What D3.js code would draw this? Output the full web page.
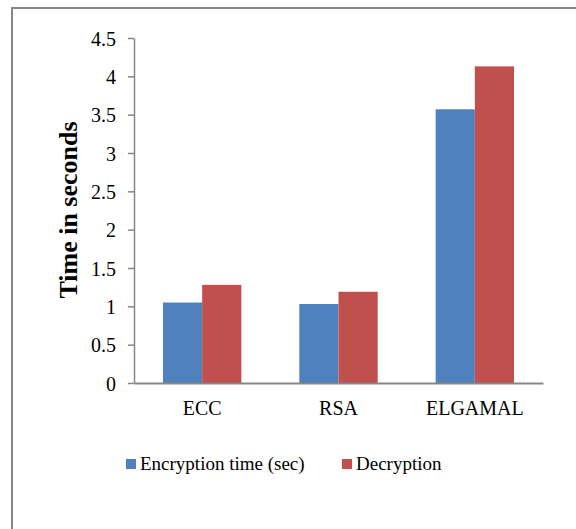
<!DOCTYPE html>
<html>
<head>
<meta charset="utf-8">
<script src="https://cdn.jsdelivr.net/npm/d3@7"></script>
<style>
  html, body { margin: 0; background: #fff; overflow: hidden; }
  svg { display: block; }
  text { font-family: "Liberation Serif", "Times New Roman", serif; fill: #000; }
</style>
</head>
<body>
<div id="chart"></div>
<script>
const categories = ["ECC", "RSA", "ELGAMAL"];
const seriesNames = ["Encryption time (sec)", "Decryption"];
const encryption = [1.05, 1.03, 3.57];
const decryption = [1.28, 1.19, 4.13];
const yTicks = [0, 0.5, 1, 1.5, 2, 2.5, 3, 3.5, 4, 4.5];
const colors = ["#4F81BD", "#C0504D"];

const W = 576, H = 529;
const margin = {top: 38, right: 33, bottom: 146, left: 134};
const width = W - margin.left - margin.right;
const height = H - margin.top - margin.bottom;

const svg = d3.select("#chart").append("svg")
    .attr("width", W)
    .attr("height", H);

// cadre du graphique : seuls les bords gauche et haut sont visibles
svg.append("path")
    .attr("d", `M12,${H} V8 H${W}`)
    .attr("fill", "none")
    .attr("stroke", "#868686")
    .attr("stroke-width", 2);

const g = svg.append("g")
    .attr("transform", `translate(${margin.left},${margin.top})`);

const x = d3.scaleBand().domain(categories).range([0, width]).paddingInner(0).paddingOuter(0);
const xInner = d3.scaleBand().domain(seriesNames).range([0, x.bandwidth()]).paddingOuter(0.74).paddingInner(0);
const y = d3.scaleLinear().domain([0, 4.5]).range([height, 0]);

const data = categories.map((c, i) => ({cat: c, values: [encryption[i], decryption[i]]}));

// barres
const groups = g.selectAll(".group")
    .data(data)
    .enter().append("g")
    .attr("class", "group")
    .attr("transform", d => `translate(${x(d.cat)},0)`);

groups.selectAll("rect")
    .data(d => d.values.map((v, k) => ({name: seriesNames[k], value: v, k: k})))
    .enter().append("rect")
    .attr("x", d => xInner(d.name))
    .attr("y", d => y(d.value))
    .attr("width", xInner.bandwidth())
    .attr("height", d => height - y(d.value))
    .attr("fill", d => colors[d.k]);

// axe y
const yAxis = d3.axisLeft(y).tickValues(yTicks).tickSize(6).tickSizeOuter(0)
    .tickFormat(d => d3.format("")(d));
const ya = g.append("g").call(yAxis);
ya.attr("font-size", null).attr("font-family", null);
ya.select(".domain").attr("stroke", "#868686").attr("stroke-width", 1.5);
ya.selectAll(".tick line").attr("stroke", "#868686").attr("stroke-width", 1.5);
ya.selectAll(".tick text").style("font-size", "20px").attr("x", -18).attr("dy", "0.35em");

// axe x
const xa = g.append("g")
    .attr("transform", `translate(0,${height})`)
    .call(d3.axisBottom(x).tickSize(0).tickSizeOuter(0));
xa.attr("font-size", null).attr("font-family", null);
xa.select(".domain").attr("stroke", "#868686").attr("stroke-width", 2);
xa.selectAll(".tick text").style("font-size", "20px").attr("y", 32).attr("dy", 0);

// titre axe y
svg.append("text")
    .attr("transform", `translate(77,210) rotate(-90)`)
    .attr("text-anchor", "middle")
    .style("font-size", "26px")
    .attr("font-weight", "bold")
    .text("Time in seconds");

// légende
const legendX = [126, 342];
const legend = svg.selectAll(".legend")
    .data(seriesNames)
    .enter().append("g")
    .attr("class", "legend")
    .attr("transform", (d, i) => `translate(${legendX[i]},459)`);

legend.append("rect")
    .attr("width", 10).attr("height", 10)
    .attr("fill", (d, i) => colors[i]);

legend.append("text")
    .attr("x", 14).attr("y", 10.5)
    .style("font-size", "19px")
    .text(d => d);
</script>
</body>
</html>
